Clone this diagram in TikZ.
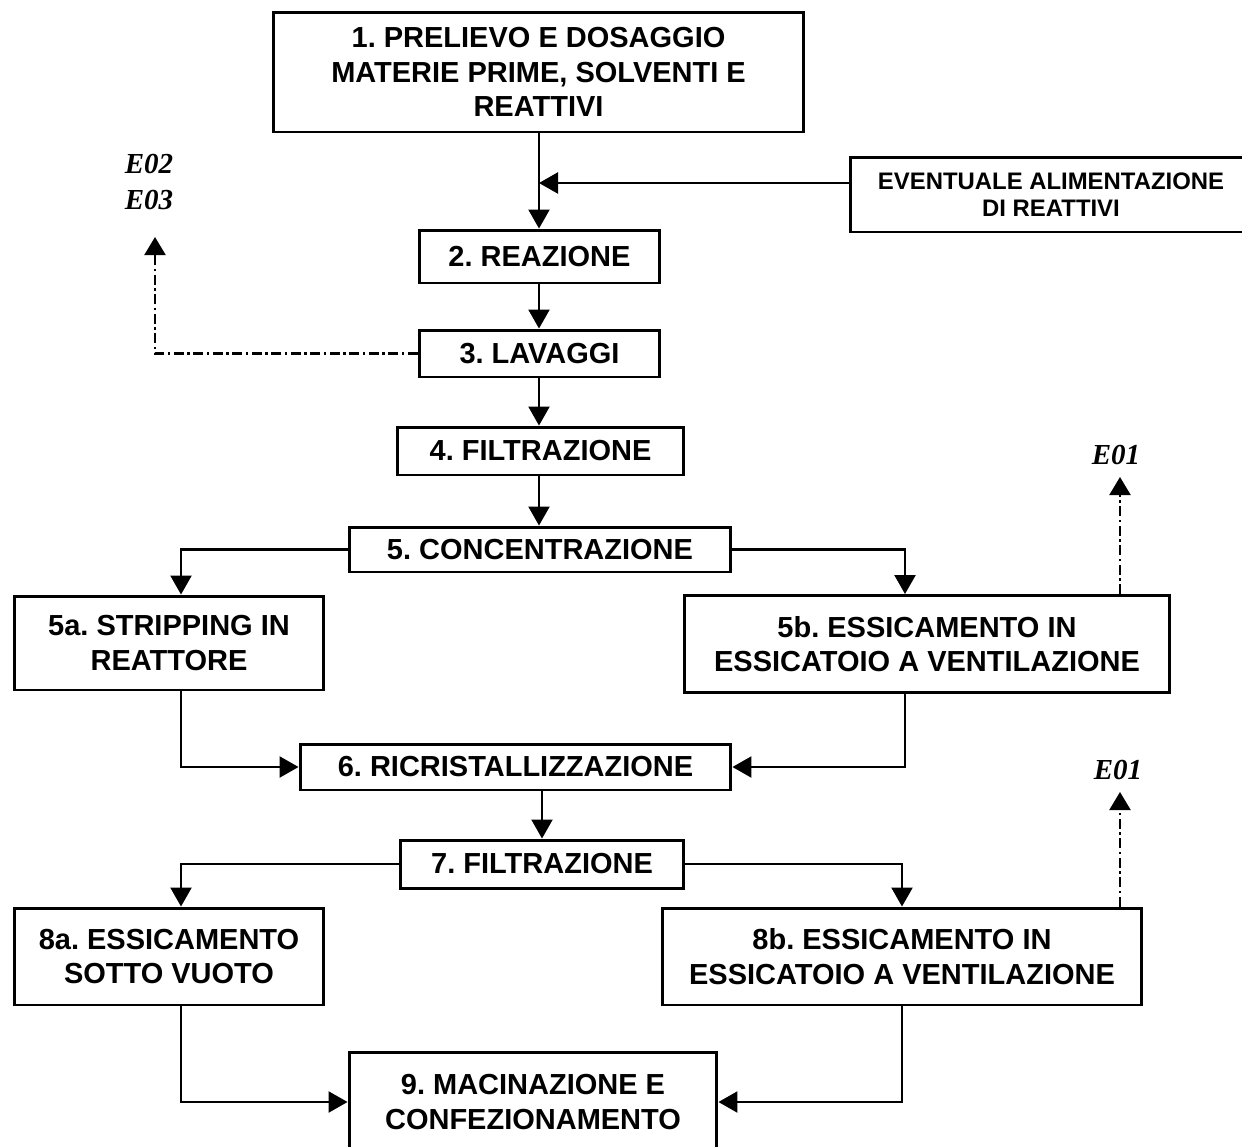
\documentclass[tikz,border=0pt]{standalone}
\usepackage{fontspec}
\setmainfont{Liberation Sans}
\newfontfamily\serifit{Liberation Serif}
\usetikzlibrary{arrows.meta}
\frenchspacing

\tikzset{
    stepbox/.style={draw,line width=1.7pt,align=center,inner sep=0pt,
        font=\fontsize{16.5}{19.5}\selectfont\bfseries},
    flow/.style={line width=1.3pt,-{Triangle[length=0.38cm,width=0.42cm]}},
    emis/.style={line width=1.3pt,
        dash pattern=on 0.2cm off 0.07cm on 0.05cm off 0.07cm,
        -{Triangle[length=0.36cm,width=0.42cm]}},
    emlabel/.style={font=\fontsize{16.5}{21}\selectfont\serifit\bfseries\itshape,
        align=center,inner sep=0pt}
}

\begin{document}
\begin{tikzpicture}[x=0.02cm,y=-0.02cm]
        \useasboundingbox (0,0) rectangle (1242,1147);
        %% Boxes
        \node[stepbox,minimum width=10.62cm,minimum height=2.40cm] (box1) at (538.5,72)
            {1. PRELIEVO E DOSAGGIO\\MATERIE PRIME, SOLVENTI E\\REATTIVI};
        \node[stepbox,minimum width=8.04cm,minimum height=1.50cm,
            font=\fontsize{13.6}{15.5}\selectfont\bfseries] (feed) at (1051,194.5)
            {EVENTUALE ALIMENTAZIONE\\DI REATTIVI};
        \node[stepbox,minimum width=4.82cm,minimum height=1.06cm] (box2) at (539.5,256.5) {2. REAZIONE};
        \node[stepbox,minimum width=4.82cm,minimum height=0.94cm] (box3) at (539.5,353.5) {3. LAVAGGI};
        \node[stepbox,minimum width=5.74cm,minimum height=0.96cm] (box4) at (540.5,451) {4. FILTRAZIONE};
        \node[stepbox,minimum width=7.64cm,minimum height=0.90cm] (box5) at (540,549.5) {5. CONCENTRAZIONE};
        \node[stepbox,minimum width=6.20cm,minimum height=1.88cm] (box5a) at (169,643)
            {5a. STRIPPING IN\\REATTORE};
        \node[stepbox,minimum width=9.72cm,minimum height=1.94cm] (box5b) at (927,644)
            {5b. ESSICAMENTO IN\\ESSICATOIO A VENTILAZIONE};
        \node[stepbox,minimum width=8.62cm,minimum height=0.92cm] (box6) at (515.5,767) {6. RICRISTALLIZZAZIONE};
        \node[stepbox,minimum width=5.68cm,minimum height=0.96cm] (box7) at (542,864) {7. FILTRAZIONE};
        \node[stepbox,minimum width=6.20cm,minimum height=1.94cm] (box8a) at (169,956.5)
            {8a. ESSICAMENTO\\SOTTO VUOTO};
        \node[stepbox,minimum width=9.60cm,minimum height=1.94cm] (box8b) at (902,956.5)
            {8b. ESSICAMENTO IN\\ESSICATOIO A VENTILAZIONE};
        \node[stepbox,minimum width=7.36cm,minimum height=2.00cm] (box9) at (533,1102)
            {9. MACINAZIONE E\\CONFEZIONAMENTO};
        %% Emissions
        \coordinate (tip23) at (155,237);
        \coordinate (tip1a) at (1120,477);
        \coordinate (tip1b) at (1120,792);
        \node[emlabel] (em23) at (149,182) {E02\\E03};
        \node[emlabel] (em1a) at (1116,455) {E01};
        \node[emlabel] (em1b) at (1118,770) {E01};
        \coordinate (join) at (539,183);
        %% Main line
        \draw[flow] (box1.south -| join) -- (box2.north -| join);
        \draw[flow] (feed.west |- join) -- (join);
        \draw[flow] (box2.south -| join) -- (box3.north -| join);
        \draw[flow] (box3.south -| join) -- (box4.north -| join);
        \draw[flow] (box4.south -| join) -- (box5.north -| join);
        \draw[flow] (box5.west) -| ([xshift=0.24cm]box5a.north);
        \draw[flow] (box5.east) -| ([xshift=-0.44cm]box5b.north);
        \draw[flow] ([xshift=0.24cm]box5a.south) |- (box6.west);
        \draw[flow] ([xshift=-0.44cm]box5b.south) |- (box6.east);
        \draw[flow] (box6.south -| box7) -- (box7.north);
        \draw[flow] (box7.west) -| ([xshift=0.24cm]box8a.north);
        \draw[flow] (box7.east) -| (box8b.north);
        \draw[flow] ([xshift=0.24cm]box8a.south) |- (box9.west);
        \draw[flow] (box8b.south) |- (box9.east);
        %% Dash-dot lines
        \draw[emis] (box3.west) -| (tip23);
        \draw[emis] (box5b.north -| tip1a) -- (tip1a);
        \draw[emis] (box8b.north -| tip1b) -- (tip1b);
    \end{tikzpicture}
\end{document}
